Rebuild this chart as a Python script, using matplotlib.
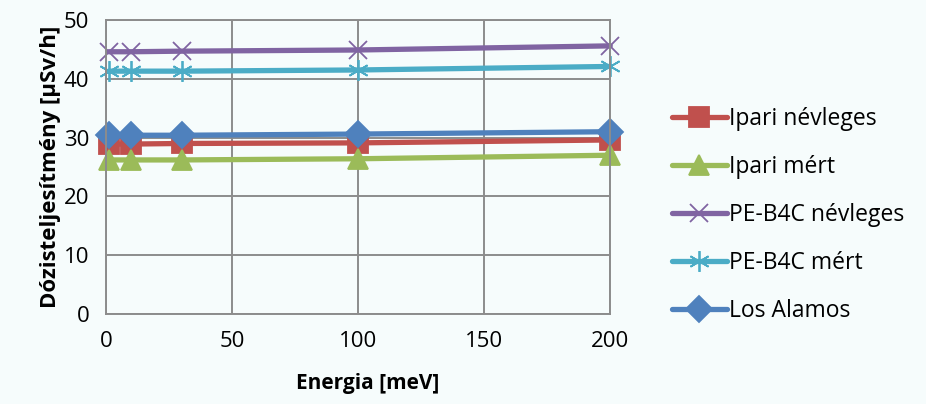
import matplotlib.pyplot as plt

plt.rcParams['font.family'] = ['Open Sans', 'DejaVu Sans']

# energia [meV]
energia = [1, 10, 30, 100, 200]

ipari_nevleges = [28.9, 28.9, 29.0, 29.1, 29.6]
ipari_mert = [26.2, 26.2, 26.2, 26.4, 27.0]
pe_b4c_nevleges = [44.6, 44.6, 44.7, 44.9, 45.6]
pe_b4c_mert = [41.3, 41.3, 41.3, 41.5, 42.1]
los_alamos = [30.4, 30.4, 30.4, 30.6, 31.0]

series = [
    ("Ipari névleges", ipari_nevleges, "#c0504d", "s", 14),
    ("Ipari mért", ipari_mert, "#9bbb59", "^", 15),
    ("PE-B4C névleges", pe_b4c_nevleges, "#8064a2", "x", 13),
    ("PE-B4C mért", pe_b4c_mert, "#4bacc6", (6, 2, 0), 15),
    ("Los Alamos", los_alamos, "#4f81bd", "D", 13),
]

bg = "#f6fcfc"
fig = plt.figure(figsize=(9.26, 4.04), dpi=100, facecolor=bg)
ax = fig.add_axes([0.1145, 0.2228, 0.5445, 0.7277], facecolor=bg)

for name, vals, col, mk, ms in series:
    ax.plot(energia, vals, color=col, lw=3.8, marker=mk, ms=ms,
            mew=1.3, solid_capstyle="round", label=name, clip_on=False)

ax.set_xlim(0, 200)
ax.set_ylim(0, 50)
ax.set_xticks(range(0, 201, 50))
ax.set_yticks(range(0, 51, 10))
ax.grid(color="#8c8c8c", lw=1.4)
ax.set_axisbelow(True)
for s in ax.spines.values():
    s.set_color("#8c8c8c")
    s.set_linewidth(1.4)
ax.tick_params(length=0, labelsize=16, pad=12)

ax.set_xlabel("Energia [meV]", fontsize=15, fontweight="bold")
ax.xaxis.set_label_coords(0.518, -0.2)
ax.set_ylabel("Dózisteljesítmény [µSv/h]", fontsize=16, fontweight="bold", labelpad=2)

fig.legend(loc="center left", bbox_to_anchor=(0.703, 0.468), frameon=False,
           fontsize=16.5, handlelength=2.4, handletextpad=0.1, labelspacing=1.05)

plt.savefig("out.png", facecolor=bg)
